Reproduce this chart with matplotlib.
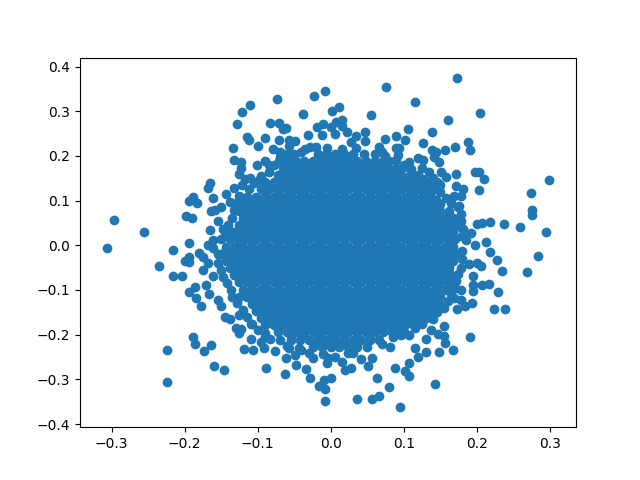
import matplotlib
matplotlib.use("Agg")
import matplotlib.pyplot as plt

# outer points, per quadrant
upper_left_x = [-0.008, -0.0225, -0.074, -0.110, -0.121, -0.0375, -0.128, -0.0827, -0.0704, -0.065, -0.061, -0.019,
                -0.010, -0.0115, -0.0315, -0.114, -0.1115, -0.0896, -0.0704, -0.0567, -0.0485, -0.0567, -0.099,
                -0.0786, -0.069, -0.028, -0.1334, -0.1325, -0.1225, -0.1225, -0.125, -0.0896, -0.0704, -0.1005,
                -0.0553, -0.040, -0.117, -0.098, -0.165, -0.1677, -0.132, -0.121, -0.1434, -0.1608, -0.188, -0.1937,
                -0.1827, -0.138, -0.15, -0.1635, -0.158, -0.198, -0.1896, -0.155, -0.2964, -0.2553, -0.165, -0.147,
                -0.1415, -0.1608, -0.1937, -0.1677]
upper_left_y = [0.3445, 0.333, 0.3266, 0.313, 0.2975, 0.293, 0.2707, 0.273, 0.273, 0.260, 0.262, 0.264,
                0.2707, 0.246, 0.246, 0.2416, 0.235, 0.239, 0.235, 0.235, 0.233, 0.2215, 0.2215,
                0.215, 0.208, 0.219, 0.217, 0.190, 0.1857, 0.172, 0.159, 0.188, 0.188, 0.179,
                0.188, 0.208, 0.148, 0.1455, 0.1387, 0.1275, 0.1275, 0.1345, 0.114, 0.105, 0.1074, 0.0984,
                0.094, 0.0962, 0.085, 0.076, 0.078, 0.065, 0.060, 0.0537, 0.056, 0.029, 0.0336, 0.0358,
                0.038, 0.012, 0.0045, 0.0]

upper_right_x = [0.1735, 0.0762, 0.116, 0.205, 0.0118, 0.0022, 0.0556, 0.161, 0.016, 0.0077, 0.001, 0.016, 0.0228,
                 0.0065, 0.1063, 0.139, 0.0474, 0.035, 0.09, 0.0748, 0.102, 0.0474, 0.1268, 0.1885, 0.191, 0.1707,
                 0.157, 0.139, 0.1447, 0.1415, 0.0666, 0.028, 0.09, 0.094, 0.0926, 0.0707, 0.12, 0.1268, 0.1073,
                 0.1, 0.1488, 0.1515, 0.172, 0.1584, 0.198, 0.2027, 0.2104, 0.2995, 0.146, 0.172, 0.1817, 0.2036,
                 0.2748, 0.1693, 0.179, 0.1762, 0.276, 0.276, 0.2186, 0.2077, 0.2008, 0.238, 0.2597, 0.2953, 0.1776,
                 0.1926, 0.2132, 0.198, 0.1817, 0.186]
upper_right_y = [0.3736, 0.3535, 0.32, 0.2953, 0.3087, 0.30, 0.291, 0.2796, 0.2796, 0.275, 0.264, 0.266, 0.2528,
                 0.248, 0.2595, 0.2528, 0.2528, 0.2438, 0.2438, 0.237, 0.235, 0.2327, 0.228, 0.2304, 0.2125, 0.219,
                 0.2125, 0.2125, 0.208, 0.197, 0.219, 0.2304, 0.217, 0.217, 0.2013, 0.208, 0.1946, 0.1902, 0.1857,
                 0.179, 0.1857, 0.1633, 0.159, 0.152, 0.1633, 0.1633, 0.1477, 0.1455, 0.141, 0.132, 0.1253, 0.123,
                 0.1163, 0.11, 0.11, 0.087, 0.078, 0.067, 0.0515, 0.049, 0.0467, 0.0467, 0.040, 0.029, 0.0537,
                 0.0268, 0.0067, 0.0, 0.0358, 0.011]

lower_left_x = [-0.306, -0.2156, -0.2348, -0.2156, -0.204, -0.1937, -0.1992, -0.1937, -0.18, -0.1745, -0.1677, -0.1745,
                -0.1608, -0.1608, -0.1704, -0.1855, -0.1937, -0.184, -0.1663, -0.1773, -0.15, -0.155, -0.1444,
                -0.1375, -0.125, -0.1293, -0.1235, -0.125, -0.1088, -0.1088, -0.188, -0.1863, -0.1635, -0.173,
                -0.2238, -0.2238, -0.1594, -0.1457, -0.1183, -0.106, -0.091, -0.0759, -0.0882, -0.0622, -0.0608,
                -0.0471, -0.0485, -0.0334, -0.0238, -0.028, -0.0156, -0.0074, -0.0088, -0.0074, -0.0047, -0.0033,
                -0.096, -0.09, -0.083, -0.057, -0.043]
lower_left_y = [-0.006, -0.0105, -0.047, -0.0694, -0.0694, -0.038, -0.036, -0.0268, -0.018, -0.027, -0.040, -0.056,
                -0.0694, -0.0067, -0.0895, -0.094, -0.105, -0.1186, -0.1096, -0.1365, -0.1365, -0.123, -0.161,
                -0.1655, -0.1566, -0.1857, -0.188, -0.197, -0.21, -0.1767, -0.2058, -0.2215, -0.2237, -0.237,
                -0.235, -0.3065, -0.2707, -0.2796, -0.2327, -0.235, -0.2304, -0.237, -0.275, -0.2886, -0.2528,
                -0.2685, -0.246, -0.2774, -0.2528, -0.2975, -0.3154, -0.322, -0.302, -0.349, -0.264, -0.2528,
                -0.217, -0.197, -0.21, -0.2304, -0.2304]

lower_right_x = [0.2844, 0.2693, 0.235, 0.228, 0.2186, 0.2063, 0.2009, 0.19, 0.1953, 0.2173, 0.2077, 0.1953, 0.1953,
                 0.2296, 0.179, 0.1638, 0.2241, 0.2392, 0.194, 0.1734, 0.1845, 0.179, 0.169, 0.191, 0.1556, 0.1556,
                 0.157, 0.168, 0.1488, 0.131, 0.131, 0.116, 0.12, 0.1077, 0.0885, 0.1022, 0.1077, 0.0638, 0.0803,
                 0.1433, 0.0666, 0.057, 0.0364, 0.0953, 0.001, 0.02, 0.028, 0.051, 0.0065, 0.016, 0.042, 0.056,
                 0.081, 0.0967, 0.1077, 0.138, 0.147, 0.024]
lower_right_y = [-0.0246, -0.0604, -0.0586, -0.0336, -0.0157, -0.047, -0.0405, -0.0425, -0.0694, -0.0872, -0.089, -0.089, -0.103,
                 -0.105, -0.101, -0.092, -0.143, -0.143, -0.13, -0.143, -0.135, -0.123, -0.1186, -0.2058, -0.181, -0.2036,
                 -0.219, -0.235, -0.2394, -0.21, -0.2394, -0.2304, -0.2506, -0.264, -0.275, -0.282, -0.293, -0.2975, -0.3177,
                 -0.311, -0.338, -0.3445, -0.3445, -0.3624, -0.2975, -0.2796, -0.275, -0.2707, -0.25, -0.26, -0.255, -0.2528,
                 -0.2285, -0.2, -0.2, -0.19, -0.199, -0.24]

# points along the edge of the solid area
rim_x = [-0.112, -0.105, -0.095, -0.085, -0.078, -0.06, -0.05, -0.035, -0.02, -0.06, -0.125, -0.13, -0.133, -0.135,
         -0.14, -0.145, -0.15, -0.11, -0.085, -0.07,
         0.045, 0.06, 0.075, 0.09, 0.1, 0.11, 0.125, 0.135, 0.14, 0.15, 0.15, 0.158, 0.165, 0.175, 0.178, 0.178,
         0.178, 0.18, 0.015, 0.035, -0.005,
         -0.155, -0.155, -0.15, -0.147, -0.142, -0.137, -0.135, -0.128, -0.12, -0.115, -0.108, -0.1, -0.09, -0.07,
         -0.06, -0.04, -0.03, -0.01,
         0.03, 0.05, 0.07, 0.085, 0.1, 0.115, 0.125, 0.14, 0.145, 0.155, 0.16, 0.165, 0.17, 0.172, 0.175, 0.178,
         0.18, 0.18]
rim_y = [0.125, 0.14, 0.155, 0.165, 0.18, 0.19, 0.205, 0.215, 0.22, 0.205, 0.11, 0.095, 0.08, 0.06,
         0.045, 0.03, 0.015, 0.15, 0.18, 0.197,
         0.205, 0.205, 0.2, 0.19, 0.175, 0.17, 0.172, 0.165, 0.15, 0.135, 0.12, 0.105, 0.095, 0.085, 0.07, 0.055,
         0.04, 0.02, 0.215, 0.218, 0.218,
         -0.02, -0.04, -0.055, -0.07, -0.085, -0.1, -0.115, -0.13, -0.145, -0.16, -0.175, -0.19, -0.205, -0.213,
         -0.225, -0.235, -0.24, -0.243,
         -0.24, -0.228, -0.22, -0.205, -0.195, -0.185, -0.175, -0.165, -0.15, -0.14, -0.125, -0.11, -0.095, -0.08, -0.065, -0.05,
         -0.03, -0.012]

# the middle is solid blue, single points can't be read there, so these only fill the overplotted area
core_y = [0.205, 0.189, 0.173, 0.157, 0.141, 0.125, 0.109, 0.093, 0.077, 0.061, 0.045, 0.029, 0.013, -0.003,
          -0.019, -0.035, -0.051, -0.067, -0.083, -0.099, -0.115, -0.131, -0.147, -0.163, -0.179, -0.195, -0.211, -0.227]
core_x = [
    [-0.018, -0.006, 0.006, 0.018, 0.030],
    [-0.048, -0.036, -0.024, -0.012, 0.0, 0.012, 0.024, 0.036, 0.048, 0.060, 0.072, 0.080],
    [-0.066, -0.054, -0.042, -0.030, -0.018, -0.006, 0.006, 0.018, 0.030, 0.042, 0.054, 0.066, 0.078, 0.090],
    [-0.072, -0.060, -0.048, -0.036, -0.024, -0.012, 0.0, 0.012, 0.024, 0.036, 0.048, 0.060, 0.072, 0.084, 0.096, 0.108, 0.120],
    [-0.090, -0.078, -0.066, -0.054, -0.042, -0.030, -0.018, -0.006, 0.006, 0.018, 0.030, 0.042, 0.054, 0.066, 0.078, 0.090, 0.102, 0.114, 0.126, 0.135],
    [-0.096, -0.084, -0.072, -0.060, -0.048, -0.036, -0.024, -0.012, 0.0, 0.012, 0.024, 0.036, 0.048, 0.060, 0.072, 0.084, 0.096, 0.108, 0.120, 0.132, 0.140],
    [-0.114, -0.102, -0.090, -0.078, -0.066, -0.054, -0.042, -0.030, -0.018, -0.006, 0.006, 0.018, 0.030, 0.042, 0.054, 0.066, 0.078, 0.090, 0.102, 0.114, 0.126, 0.138],
    [-0.120, -0.108, -0.096, -0.084, -0.072, -0.060, -0.048, -0.036, -0.024, -0.012, 0.0, 0.012, 0.024, 0.036, 0.048, 0.060, 0.072, 0.084, 0.096, 0.108, 0.120, 0.132, 0.144, 0.150],
    [-0.126, -0.114, -0.102, -0.090, -0.078, -0.066, -0.054, -0.042, -0.030, -0.018, -0.006, 0.006, 0.018, 0.030, 0.042, 0.054, 0.066, 0.078, 0.090, 0.102, 0.114, 0.126, 0.138, 0.150, 0.162],
    [-0.120, -0.108, -0.096, -0.084, -0.072, -0.060, -0.048, -0.036, -0.024, -0.012, 0.0, 0.012, 0.024, 0.036, 0.048, 0.060, 0.072, 0.084, 0.096, 0.108, 0.120, 0.132, 0.144, 0.156, 0.168],
    [-0.126, -0.114, -0.102, -0.090, -0.078, -0.066, -0.054, -0.042, -0.030, -0.018, -0.006, 0.006, 0.018, 0.030, 0.042, 0.054, 0.066, 0.078, 0.090, 0.102, 0.114, 0.126, 0.138, 0.150, 0.162, 0.168],
    [-0.132, -0.120, -0.108, -0.096, -0.084, -0.072, -0.060, -0.048, -0.036, -0.024, -0.012, 0.0, 0.012, 0.024, 0.036, 0.048, 0.060, 0.072, 0.084, 0.096, 0.108, 0.120, 0.132, 0.144, 0.156, 0.168],
    [-0.138, -0.126, -0.114, -0.102, -0.090, -0.078, -0.066, -0.054, -0.042, -0.030, -0.018, -0.006, 0.006, 0.018, 0.030, 0.042, 0.054, 0.066, 0.078, 0.090, 0.102, 0.114, 0.126, 0.138, 0.150, 0.162, 0.170],
    [-0.144, -0.132, -0.120, -0.108, -0.096, -0.084, -0.072, -0.060, -0.048, -0.036, -0.024, -0.012, 0.0, 0.012, 0.024, 0.036, 0.048, 0.060, 0.072, 0.084, 0.096, 0.108, 0.120, 0.132, 0.144, 0.156, 0.168],
    [-0.150, -0.138, -0.126, -0.114, -0.102, -0.090, -0.078, -0.066, -0.054, -0.042, -0.030, -0.018, -0.006, 0.006, 0.018, 0.030, 0.042, 0.054, 0.066, 0.078, 0.090, 0.102, 0.114, 0.126, 0.138, 0.150, 0.162, 0.170],
    [-0.144, -0.132, -0.120, -0.108, -0.096, -0.084, -0.072, -0.060, -0.048, -0.036, -0.024, -0.012, 0.0, 0.012, 0.024, 0.036, 0.048, 0.060, 0.072, 0.084, 0.096, 0.108, 0.120, 0.132, 0.144, 0.156, 0.168],
    [-0.138, -0.126, -0.114, -0.102, -0.090, -0.078, -0.066, -0.054, -0.042, -0.030, -0.018, -0.006, 0.006, 0.018, 0.030, 0.042, 0.054, 0.066, 0.078, 0.090, 0.102, 0.114, 0.126, 0.138, 0.150, 0.162],
    [-0.132, -0.120, -0.108, -0.096, -0.084, -0.072, -0.060, -0.048, -0.036, -0.024, -0.012, 0.0, 0.012, 0.024, 0.036, 0.048, 0.060, 0.072, 0.084, 0.096, 0.108, 0.120, 0.132, 0.144, 0.156, 0.163],
    [-0.126, -0.114, -0.102, -0.090, -0.078, -0.066, -0.054, -0.042, -0.030, -0.018, -0.006, 0.006, 0.018, 0.030, 0.042, 0.054, 0.066, 0.078, 0.090, 0.102, 0.114, 0.126, 0.138, 0.150, 0.160],
    [-0.120, -0.108, -0.096, -0.084, -0.072, -0.060, -0.048, -0.036, -0.024, -0.012, 0.0, 0.012, 0.024, 0.036, 0.048, 0.060, 0.072, 0.084, 0.096, 0.108, 0.120, 0.132, 0.144, 0.155],
    [-0.126, -0.114, -0.102, -0.090, -0.078, -0.066, -0.054, -0.042, -0.030, -0.018, -0.006, 0.006, 0.018, 0.030, 0.042, 0.054, 0.066, 0.078, 0.090, 0.102, 0.114, 0.126, 0.138, 0.150],
    [-0.108, -0.096, -0.084, -0.072, -0.060, -0.048, -0.036, -0.024, -0.012, 0.0, 0.012, 0.024, 0.036, 0.048, 0.060, 0.072, 0.084, 0.096, 0.108, 0.120, 0.132, 0.144, 0.148],
    [-0.102, -0.090, -0.078, -0.066, -0.054, -0.042, -0.030, -0.018, -0.006, 0.006, 0.018, 0.030, 0.042, 0.054, 0.066, 0.078, 0.090, 0.102, 0.114, 0.126, 0.138],
    [-0.096, -0.084, -0.072, -0.060, -0.048, -0.036, -0.024, -0.012, 0.0, 0.012, 0.024, 0.036, 0.048, 0.060, 0.072, 0.084, 0.096, 0.108, 0.120, 0.130],
    [-0.090, -0.078, -0.066, -0.054, -0.042, -0.030, -0.018, -0.006, 0.006, 0.018, 0.030, 0.042, 0.054, 0.066, 0.078, 0.090, 0.102, 0.114],
    [-0.072, -0.060, -0.048, -0.036, -0.024, -0.012, 0.0, 0.012, 0.024, 0.036, 0.048, 0.060, 0.072, 0.084, 0.095],
    [-0.054, -0.042, -0.030, -0.018, -0.006, 0.006, 0.018, 0.030, 0.042, 0.054, 0.066],
    [-0.024, -0.012, 0.0, 0.012, 0.024, 0.036],
]

# second layer between the rows above, closes the small white specks
mid_y = [0.197, 0.181, 0.165, 0.149, 0.133, 0.117, 0.101, 0.085, 0.069, 0.053, 0.037, 0.021, 0.005, -0.011,
         -0.027, -0.043, -0.059, -0.075, -0.091, -0.107, -0.123, -0.139, -0.155, -0.171, -0.187, -0.203, -0.219]
mid_x = [
    [-0.018, 0.0, 0.018],
    [-0.054, -0.036, -0.018, 0.0, 0.018, 0.036, 0.054, 0.072],
    [-0.054, -0.036, -0.018, 0.0, 0.018, 0.036, 0.054, 0.072, 0.090],
    [-0.072, -0.054, -0.036, -0.018, 0.0, 0.018, 0.036, 0.054, 0.072, 0.090, 0.108, 0.126],
    [-0.090, -0.072, -0.054, -0.036, -0.018, 0.0, 0.018, 0.036, 0.054, 0.072, 0.090, 0.108, 0.126],
    [-0.090, -0.072, -0.054, -0.036, -0.018, 0.0, 0.018, 0.036, 0.054, 0.072, 0.090, 0.108, 0.126],
    [-0.108, -0.090, -0.072, -0.054, -0.036, -0.018, 0.0, 0.018, 0.036, 0.054, 0.072, 0.090, 0.108, 0.126, 0.144],
    [-0.108, -0.090, -0.072, -0.054, -0.036, -0.018, 0.0, 0.018, 0.036, 0.054, 0.072, 0.090, 0.108, 0.126, 0.144],
    [-0.108, -0.090, -0.072, -0.054, -0.036, -0.018, 0.0, 0.018, 0.036, 0.054, 0.072, 0.090, 0.108, 0.126, 0.144, 0.162],
    [-0.108, -0.090, -0.072, -0.054, -0.036, -0.018, 0.0, 0.018, 0.036, 0.054, 0.072, 0.090, 0.108, 0.126, 0.144, 0.162],
    [-0.126, -0.108, -0.090, -0.072, -0.054, -0.036, -0.018, 0.0, 0.018, 0.036, 0.054, 0.072, 0.090, 0.108, 0.126, 0.144, 0.162],
    [-0.126, -0.108, -0.090, -0.072, -0.054, -0.036, -0.018, 0.0, 0.018, 0.036, 0.054, 0.072, 0.090, 0.108, 0.126, 0.144, 0.162],
    [-0.126, -0.108, -0.090, -0.072, -0.054, -0.036, -0.018, 0.0, 0.018, 0.036, 0.054, 0.072, 0.090, 0.108, 0.126, 0.144, 0.162],
    [-0.144, -0.126, -0.108, -0.090, -0.072, -0.054, -0.036, -0.018, 0.0, 0.018, 0.036, 0.054, 0.072, 0.090, 0.108, 0.126, 0.144, 0.162],
    [-0.144, -0.126, -0.108, -0.090, -0.072, -0.054, -0.036, -0.018, 0.0, 0.018, 0.036, 0.054, 0.072, 0.090, 0.108, 0.126, 0.144, 0.162],
    [-0.126, -0.108, -0.090, -0.072, -0.054, -0.036, -0.018, 0.0, 0.018, 0.036, 0.054, 0.072, 0.090, 0.108, 0.126, 0.144, 0.162],
    [-0.126, -0.108, -0.090, -0.072, -0.054, -0.036, -0.018, 0.0, 0.018, 0.036, 0.054, 0.072, 0.090, 0.108, 0.126, 0.144, 0.162],
    [-0.126, -0.108, -0.090, -0.072, -0.054, -0.036, -0.018, 0.0, 0.018, 0.036, 0.054, 0.072, 0.090, 0.108, 0.126, 0.144],
    [-0.108, -0.090, -0.072, -0.054, -0.036, -0.018, 0.0, 0.018, 0.036, 0.054, 0.072, 0.090, 0.108, 0.126, 0.144],
    [-0.108, -0.090, -0.072, -0.054, -0.036, -0.018, 0.0, 0.018, 0.036, 0.054, 0.072, 0.090, 0.108, 0.126, 0.144],
    [-0.108, -0.090, -0.072, -0.054, -0.036, -0.018, 0.0, 0.018, 0.036, 0.054, 0.072, 0.090, 0.108, 0.126, 0.144],
    [-0.090, -0.072, -0.054, -0.036, -0.018, 0.0, 0.018, 0.036, 0.054, 0.072, 0.090, 0.108, 0.126],
    [-0.090, -0.072, -0.054, -0.036, -0.018, 0.0, 0.018, 0.036, 0.054, 0.072, 0.090, 0.108, 0.126],
    [-0.072, -0.054, -0.036, -0.018, 0.0, 0.018, 0.036, 0.054, 0.072, 0.090, 0.108],
    [-0.072, -0.054, -0.036, -0.018, 0.0, 0.018, 0.036, 0.054, 0.072, 0.090],
    [-0.054, -0.036, -0.018, 0.0, 0.018, 0.036, 0.054],
    [-0.018, 0.0, 0.018, 0.036],
]

x = upper_left_x + upper_right_x + lower_left_x + lower_right_x + rim_x
y = upper_left_y + upper_right_y + lower_left_y + lower_right_y + rim_y
for row_y, row_x in zip(core_y + mid_y, core_x + mid_x):
    x = x + row_x
    y = y + [row_y] * len(row_x)

fig, ax = plt.subplots()
ax.scatter(x, y)
ax.set_xlim(-0.3434, 0.336)
ax.set_ylim(-0.407, 0.42)

fig.savefig("out.png")
